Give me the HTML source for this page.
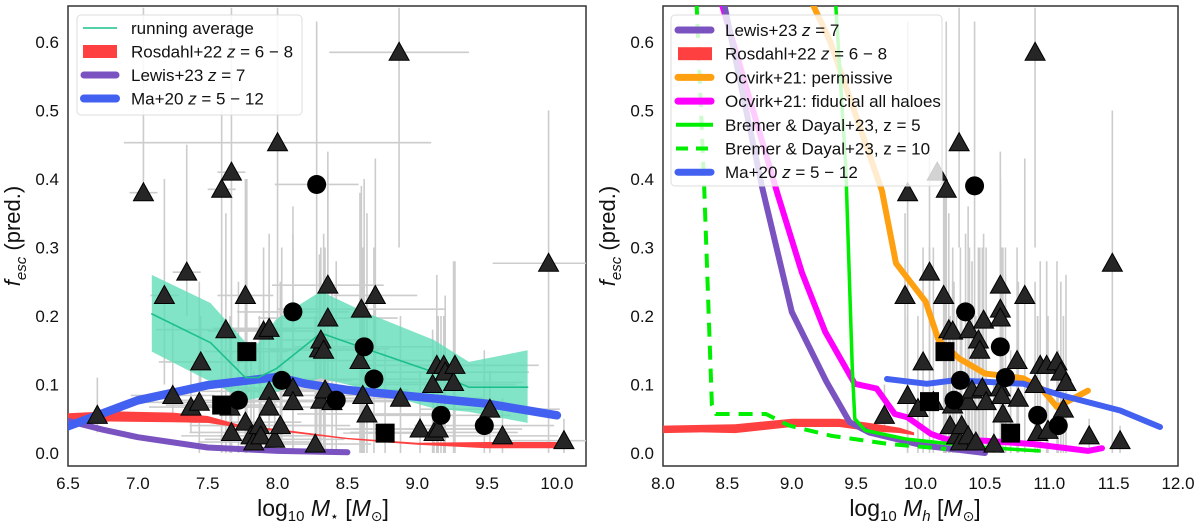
<!DOCTYPE html>
<html><head><meta charset="utf-8">
<style>
html,body{margin:0;padding:0;background:#fff;}
svg{display:block;font-family:"Liberation Sans","DejaVu Sans",sans-serif;}
</style></head>
<body>
<svg id="chart" width="1200" height="526" viewBox="0 0 1200 526" xmlns="http://www.w3.org/2000/svg">
<defs>
<clipPath id="clipL"><rect x="68" y="6" width="518" height="460"/></clipPath>
<clipPath id="clipR"><rect x="663" y="6" width="515" height="460"/></clipPath>
</defs>
<g id="left"></g>
<g id="right"></g>
</svg>
<script>
// ---------- DATA ----------
const xTicksL = [6.5,7.0,7.5,8.0,8.5,9.0,9.5,10.0];
const xTicksR = [8.0,8.5,9.0,9.5,10.0,10.5,11.0,11.5,12.0];
const yTicks = [0.0,0.1,0.2,0.3,0.4,0.5,0.6];
// left panel points: [x, y, yLow, yHigh, xErr]
const leftTri = [[6.71,0.055,0.03,0.11,0.2],[7.04,0.38,0.37,0.65,0.1],[7.19,0.23,0.1,0.40,0.1],[7.25,0.084,0.05,0.19,0.3],[7.35,0.264,0.2,0.45,0.1],[7.38,0.067,0.03,0.12,0.3],[7.44,0.074,0.0,0.25,0.4],[7.45,0.133,0.1,0.2,0.3],[7.60,0.385,0.0,0.5,0.1],[7.67,0.41,0.0,0.65,0.1],[7.63,0.18,0.0,0.35,0.5],[7.66,0.067,0.0,0.2,0.3],[7.67,0.03,0.01,0.15,0.3],[7.77,0.23,0.0,0.4,0.2],[7.77,0.045,0.0,0.2,0.4],[7.81,0.025,0.0,0.15,0.5],[7.83,0.016,0.0,0.12,0.4],[7.87,0.04,0.0,0.2,0.5],[7.88,0.025,0.0,0.18,0.3],[7.90,0.178,0.1,0.3,0.4],[7.94,0.182,0.1,0.32,0.4],[7.94,0.09,0.0,0.25,0.5],[7.94,0.067,0.0,0.2,0.5],[7.98,0.02,0.0,0.12,0.5],[8.02,0.04,0.0,0.25,0.5],[8.00,0.453,0.12,0.65,1.1],[8.11,0.095,0.0,0.36,0.5],[8.11,0.075,0.0,0.3,0.4],[8.27,0.013,0.0,0.2,0.4],[8.30,0.152,0.0,0.29,0.5],[8.31,0.165,0.05,0.3,0.3],[8.33,0.15,0.0,0.32,0.4],[8.31,0.077,0.0,0.25,0.4],[8.34,0.092,0.0,0.3,0.6],[8.36,0.245,0.1,0.44,0.4],[8.36,0.197,0.1,0.41,0.5],[8.39,0.075,0.0,0.25,0.5],[8.59,0.135,0.0,0.38,0.6],[8.60,0.21,0.0,0.39,0.6],[8.61,0.084,0.0,0.3,0.5],[8.64,0.057,0.0,0.35,0.5],[8.70,0.23,0.1,0.43,0.3],[8.87,0.585,0.3,0.65,0.5],[8.88,0.08,0.0,0.2,0.6],[9.02,0.035,0.0,0.12,0.6],[9.11,0.1,0.0,0.18,0.6],[9.14,0.128,0.0,0.26,0.5],[9.19,0.128,0.0,0.2,0.5],[9.20,0.118,0.0,0.23,0.6],[9.26,0.103,0.0,0.28,0.5],[9.27,0.128,0.0,0.28,0.6],[9.12,0.03,0.0,0.15,0.6],[9.15,0.035,0.0,0.2,0.6],[9.52,0.064,0.0,0.12,0.5],[9.61,0.025,0.0,0.08,0.4],[9.94,0.277,0.0,0.5,0.4],[10.05,0.018,0.0,0.05,0.4]];
const leftCirc = [[8.28,0.392,0.0,0.63,0.3],[8.11,0.206,0.0,0.32,0.4],[8.03,0.106,0.0,0.3,0.5],[7.72,0.077,0.0,0.25,0.5],[8.42,0.077,0.0,0.28,0.5],[8.62,0.155,0.0,0.4,0.5],[8.69,0.108,0.0,0.3,0.5],[9.17,0.055,0.0,0.2,0.5],[9.48,0.04,0.0,0.15,0.5]];
const leftSq = [[7.78,0.148,0.0,0.4,0.3],[7.60,0.07,0.0,0.3,0.4],[8.77,0.029,0.0,0.15,0.3]];
// left model curves
const maLx = [6.5,7.0,7.5,8.0,8.2,8.5,9.0,9.5,10.0];
const maLy = [0.039,0.077,0.099,0.111,0.101,0.092,0.082,0.072,0.055];
const lewisLx = [6.5,6.75,7.0,7.5,8.0,8.5];
const lewisLy = [0.047,0.034,0.023,0.008,0.003,0.001];
const rosLx = [6.5,6.8,7.25,7.5,7.75,8.0,8.5,9.0,9.5,10.0];
const rosLhi = [0.058,0.061,0.059,0.054,0.040,0.035,0.022,0.015,0.016,0.016];
const rosLlo = [0.041,0.046,0.045,0.044,0.036,0.032,0.020,0.012,0.007,0.007];
const runX = [7.1,7.52,7.77,7.86,7.99,8.31,8.62,9.12,9.37,9.79];
const runY = [0.203,0.161,0.11,0.11,0.123,0.175,0.153,0.118,0.096,0.096];
const runHi = [0.26,0.219,0.162,0.16,0.195,0.236,0.206,0.165,0.133,0.15];
const runLo = [0.148,0.104,0.077,0.08,0.089,0.109,0.094,0.065,0.06,0.044];
// right panel points: [x, y, yLow, yHigh]
const rightTri = [[9.72,0.055,0.03,0.1],[9.90,0.38,0.0,0.63],[9.88,0.23,0.1,0.35],[9.90,0.084,0.0,0.2],[9.98,0.065,0.0,0.2],[10.02,0.133,0.0,0.3],[10.07,0.264,0.1,0.45],[10.10,0.075,0.0,0.3],[10.18,0.23,0.0,0.4],[10.20,0.385,0.0,0.63],[10.22,0.18,0.0,0.35],[10.25,0.178,0.0,0.3],[10.23,0.04,0.0,0.2],[10.25,0.07,0.0,0.25],[10.28,0.025,0.0,0.2],[10.31,0.016,0.0,0.15],[10.32,0.04,0.0,0.2],[10.37,0.025,0.0,0.2],[10.37,0.075,0.0,0.36],[10.38,0.18,0.0,0.3],[10.40,0.092,0.0,0.28],[10.43,0.016,0.0,0.2],[10.30,0.453,0.3,0.65],[10.45,0.165,0.0,0.3],[10.46,0.15,0.0,0.3],[10.49,0.194,0.0,0.32],[10.48,0.095,0.0,0.3],[10.51,0.075,0.0,0.3],[10.57,0.013,0.0,0.1],[10.62,0.095,0.0,0.3],[10.62,0.245,0.0,0.44],[10.62,0.21,0.0,0.4],[10.62,0.197,0.0,0.39],[10.63,0.084,0.0,0.3],[10.64,0.057,0.0,0.3],[10.75,0.135,0.0,0.3],[10.76,0.08,0.0,0.25],[10.81,0.23,0.0,0.43],[10.89,0.1,0.0,0.25],[10.91,0.03,0.0,0.2],[10.89,0.585,0.3,0.65],[10.93,0.128,0.0,0.28],[10.98,0.128,0.0,0.28],[10.99,0.033,0.0,0.2],[11.06,0.133,0.0,0.28],[11.09,0.118,0.0,0.25],[11.13,0.103,0.0,0.26],[11.11,0.064,0.0,0.2],[11.31,0.025,0.0,0.05],[11.49,0.277,0.0,0.5],[11.55,0.018,0.0,0.04]];
const rightCirc = [[10.42,0.39,0.0,0.63],[10.35,0.206,0.0,0.32],[10.31,0.106,0.0,0.3],[10.26,0.077,0.0,0.25],[10.62,0.155,0.0,0.4],[10.66,0.11,0.0,0.3],[10.91,0.055,0.0,0.2],[11.07,0.04,0.0,0.15]];
const rightSq = [[10.19,0.148,0.0,0.4],[10.07,0.075,0.0,0.3],[10.70,0.029,0.0,0.15]];
const greyTri = [[10.13,0.41]];
// right model curves
const lewisRx = [8.47,8.77,9.0,9.27,9.45,9.6,10.02,10.5];
const lewisRy = [0.66,0.388,0.206,0.104,0.045,0.03,0.011,0.0];
const magX = [8.45,8.89,9.08,9.26,9.49,9.66,9.8,9.9,10.08,10.2,10.5,10.88,11.3,11.41];
const magY = [0.66,0.378,0.263,0.177,0.101,0.094,0.057,0.052,0.028,0.02,0.018,0.013,0.003,0.007];
const oraX = [9.15,9.3,9.7,9.81,10.04,10.14,10.3,10.5,10.8,10.94,11.06,11.3];
const oraY = [0.66,0.6,0.383,0.277,0.221,0.165,0.138,0.116,0.109,0.094,0.067,0.091];
const bd5X = [9.34,9.42,9.47,9.49,9.57,9.9,10.5,10.92];
const bd5Y = [0.66,0.417,0.123,0.05,0.033,0.02,0.008,0.003];
const bd10X = [8.26,8.32,8.38,8.41,8.8,8.98,9.31,9.76,10.2];
const bd10Y = [0.66,0.388,0.07,0.057,0.057,0.04,0.025,0.013,0.006];
const rosRx = [8.0,8.3,8.56,9.0,9.37,9.6,9.84,9.95];
const rosRhi = [0.04,0.041,0.042,0.05,0.05,0.044,0.037,0.03];
const rosRlo = [0.029,0.03,0.029,0.038,0.038,0.032,0.029,0.026];
const maRx = [9.74,10.05,10.26,10.5,10.8,11.1,11.55,11.86];
const maRy = [0.108,0.101,0.106,0.104,0.101,0.084,0.062,0.038];

// ---------- AXES ----------
const NS = "http://www.w3.org/2000/svg";
const yTop = 6, yBot = 466;
function yS(v){ return 453 - v*685; }
function xL(v){ return 68 + (v-6.5)*139.7; }
function xR(v){ return 663 + (v-8.0)*128.75; }
function mk(parent, tag, attrs, text){
  const e = document.createElementNS(NS, tag);
  for (const k in attrs) e.setAttribute(k, attrs[k]);
  if (text !== undefined) e.textContent = text;
  parent.appendChild(e);
  return e;
}
function pathFrom(xs, ys, xf){
  return xs.map((x,i)=>(i?'L':'M')+xf(x).toFixed(1)+' '+yS(ys[i]).toFixed(1)).join(' ');
}
function bandFrom(xs, hi, lo, xf){
  let d = xs.map((x,i)=>(i?'L':'M')+xf(x).toFixed(1)+' '+yS(hi[i]).toFixed(1)).join(' ');
  for (let i=xs.length-1;i>=0;i--) d += ' L'+xf(xs[i]).toFixed(1)+' '+yS(lo[i]).toFixed(1);
  return d+' Z';
}
function tri(g, cx, cy, fill){
  return mk(g,'path',{d:`M${cx} ${cy-10} L${cx+10} ${cy+8} L${cx-10} ${cy+8} Z`, fill:fill||'#262626', stroke:'#000','stroke-width':1});
}
function drawAxes(panel, x0, x1, xTicks, xf, xlabelParts, xlabelCx){
  const g = panel;
  yTicks.forEach(v=>{
    const t = mk(g,'text',{x:x0-9,y:yS(v)+6,'text-anchor':'end','font-size':17,fill:'#111'}, v.toFixed(1));
    
    
  });
  xTicks.forEach(v=>{
    const t = mk(g,'text',{x:xf(v),y:489,'text-anchor':'middle','font-size':17,fill:'#111'}, v.toFixed(1));
    
    
  });
  const frame = mk(g,'rect',{x:x0,y:yTop,width:x1-x0,height:yBot-yTop,fill:'none',stroke:'#333','stroke-width':1.5});
  
  
  const yl = mk(g,'text',{transform:`translate(${x0-48},236) rotate(-90)`,'text-anchor':'middle','font-size':22,fill:'#111'});
  yl.innerHTML = '<tspan font-style="italic">f</tspan><tspan font-style="italic" font-size="15" dy="6">esc</tspan><tspan dy="-6"> (pred.)</tspan>';
  
  
  const xl = mk(g,'text',{x:xlabelCx,y:516,'text-anchor':'middle','font-size':23,fill:'#111'});
  xl.innerHTML = xlabelParts;
  
  
}
function errBars(g, pts, xf, withX){
  pts.forEach(p=>{
    const l = mk(g,'line',{x1:xf(p[0]),x2:xf(p[0]),y1:yS(p[2]),y2:yS(p[3]),stroke:'#cccccc','stroke-width':1.6});
    
    
    if (withX){
      const h = mk(g,'line',{x1:xf(p[0]-p[4]),x2:xf(p[0]+p[4]),y1:yS(p[1]),y2:yS(p[1]),stroke:'#cccccc','stroke-width':1.6});
      
      
    }
  });
}
function markers(g, tris, circs, sqs, xf){
  tris.forEach(p=>{
    const e = tri(g, xf(p[0]), yS(p[1]));
    
    
  });
  circs.forEach(p=>{
    const e = mk(g,'circle',{cx:xf(p[0]),cy:yS(p[1]),r:9.5,fill:'#000'});
    
    
  });
  sqs.forEach(p=>{
    const e = mk(g,'rect',{x:xf(p[0])-9.5,y:yS(p[1])-9.5,width:19,height:19,fill:'#000'});
    
    
  });
}
function line(g, xs, ys, xf, color, w, name, extra){
  const a = {d:pathFrom(xs,ys,xf),fill:'none',stroke:color,'stroke-width':w,'stroke-linejoin':'round','stroke-linecap':'round'};
  if (extra) Object.assign(a, extra);
  const e = mk(g,'path',a);
  
  
  return e;
}

// ---------- LEFT PANEL ----------
const L = document.getElementById('left');
drawAxes(L, 68, 586, xTicksL, xL, 'log<tspan font-size="15" dy="5">10</tspan><tspan dy="-5"> </tspan><tspan font-style="italic">M</tspan><tspan font-size="14" dy="5">⋆</tspan><tspan dy="-5">  [</tspan><tspan font-style="italic">M</tspan><tspan font-size="14" dy="5">⊙</tspan><tspan dy="-5">]</tspan>', 323);
const Lp = mk(L,'g',{'clip-path':'url(#clipL)'});
errBars(Lp, leftTri.concat(leftCirc, leftSq), xL, true);
const band = mk(Lp,'path',{d:bandFrom(runX,runHi,runLo,xL),fill:'#5fdcb6','fill-opacity':0.78});


const rosL = mk(Lp,'path',{d:bandFrom(rosLx,rosLhi,rosLlo,xL),fill:'#ff4040'});


line(Lp, lewisLx, lewisLy, xL, '#7b53c1', 6, 'lewis23-line');
line(Lp, maLx, maLy, xL, '#4361f0', 8.5, 'ma20-line');
line(Lp, runX, runY, xL, '#1cc08c', 1.6, 'running-average-line');
markers(Lp, leftTri, leftCirc, leftSq, xL);
// legend left
const lgL = mk(L,'g',{});


mk(lgL,'rect',{x:77,y:15,width:225,height:100,rx:4,fill:'#fff','fill-opacity':0.85,stroke:'#ddd'});
const legLItems = [['running average','run'],['Rosdahl+22 <tspan font-style="italic">z</tspan> = 6 − 8','ros'],['Lewis+23 <tspan font-style="italic">z</tspan> = 7','lewis'],['Ma+20 <tspan font-style="italic">z</tspan> = 5 − 12','ma']];
legLItems.forEach((it,i)=>{
  const y = 28 + i*23.5;
  const ge = mk(lgL,'g',{});
  
  
  if (it[1]==='run') mk(ge,'line',{x1:83,x2:117,y1:y,y2:y,stroke:'#1cc08c','stroke-width':1.6});
  if (it[1]==='ros') mk(ge,'rect',{x:83,y:y-6.5,width:34,height:13,fill:'#ff4040'});
  if (it[1]==='lewis') mk(ge,'line',{x1:84,x2:116,y1:y,y2:y,stroke:'#7b53c1','stroke-width':7,'stroke-linecap':'round'});
  if (it[1]==='ma') mk(ge,'line',{x1:84,x2:116,y1:y,y2:y,stroke:'#4361f0','stroke-width':8,'stroke-linecap':'round'});
  const t = mk(ge,'text',{x:131,y:y+6,'font-size':17,fill:'#111'});
  t.innerHTML = it[0];
});

// ---------- RIGHT PANEL ----------
const R = document.getElementById('right');
drawAxes(R, 663, 1178, xTicksR, xR, 'log<tspan font-size="15" dy="5">10</tspan><tspan dy="-5"> </tspan><tspan font-style="italic">M</tspan><tspan font-size="15" font-style="italic" dy="5">h</tspan><tspan dy="-5"> [</tspan><tspan font-style="italic">M</tspan><tspan font-size="14" dy="5">⊙</tspan><tspan dy="-5">]</tspan>', 915);
const Rp = mk(R,'g',{'clip-path':'url(#clipR)'});
errBars(Rp, rightTri.concat(rightCirc, rightSq), xR, false);
const rosR = mk(Rp,'path',{d:bandFrom(rosRx,rosRhi,rosRlo,xR),fill:'#ff4040'});


line(Rp, oraX, oraY, xR, '#ffa010', 6, 'ocvirk21-permissive-line');
line(Rp, magX, magY, xR, '#ff00ff', 6, 'ocvirk21-fiducial-line');
line(Rp, lewisRx, lewisRy, xR, '#7b53c1', 6, 'lewis23-line');
line(Rp, bd10X, bd10Y, xR, '#00ee00', 4, 'bremer-dayal-z10-line', {'stroke-dasharray':'14 9','stroke-linecap':'butt'});
line(Rp, bd5X, bd5Y, xR, '#00ee00', 3.5, 'bremer-dayal-z5-line');
line(Rp, maRx, maRy, xR, '#4361f0', 6, 'ma20-line');
greyTri.forEach(p=>{
  const e = tri(Rp, xR(p[0]), yS(p[1]), '#262626');
  
  
});
markers(Rp, rightTri, rightCirc, rightSq, xR);
// legend right
const lgR = mk(R,'g',{});


mk(lgR,'rect',{x:671,y:15,width:271,height:171,rx:4,fill:'#fff','fill-opacity':0.8,stroke:'#ddd'});
const legRItems = [['Lewis+23 <tspan font-style="italic">z</tspan> = 7','#7b53c1','w'],['Rosdahl+22 <tspan font-style="italic">z</tspan> = 6 − 8','#ff4040','box'],['Ocvirk+21: permissive','#ffa010','w'],['Ocvirk+21: fiducial all haloes','#ff00ff','w'],['Bremer &amp; Dayal+23, z = 5','#00ee00','thin'],['Bremer &amp; Dayal+23, z = 10','#00ee00','dash'],['Ma+20 <tspan font-style="italic">z</tspan> = 5 − 12','#4361f0','w']];
legRItems.forEach((it,i)=>{
  const y = 30 + i*23.7;
  const ge = mk(lgR,'g',{});
  
  
  if (it[2]==='w') mk(ge,'line',{x1:678,x2:711,y1:y,y2:y,stroke:it[1],'stroke-width':7,'stroke-linecap':'round'});
  if (it[2]==='box') mk(ge,'rect',{x:678,y:y-6.5,width:34,height:13,fill:it[1]});
  if (it[2]==='thin') mk(ge,'line',{x1:676,x2:713,y1:y,y2:y,stroke:it[1],'stroke-width':4});
  if (it[2]==='dash') mk(ge,'line',{x1:676,x2:713,y1:y,y2:y,stroke:it[1],'stroke-width':4,'stroke-dasharray':'12 8'});
  const t = mk(ge,'text',{x:725,y:y+6,'font-size':17,fill:'#111'});
  t.innerHTML = it[0];
});
</script>
</body></html>
